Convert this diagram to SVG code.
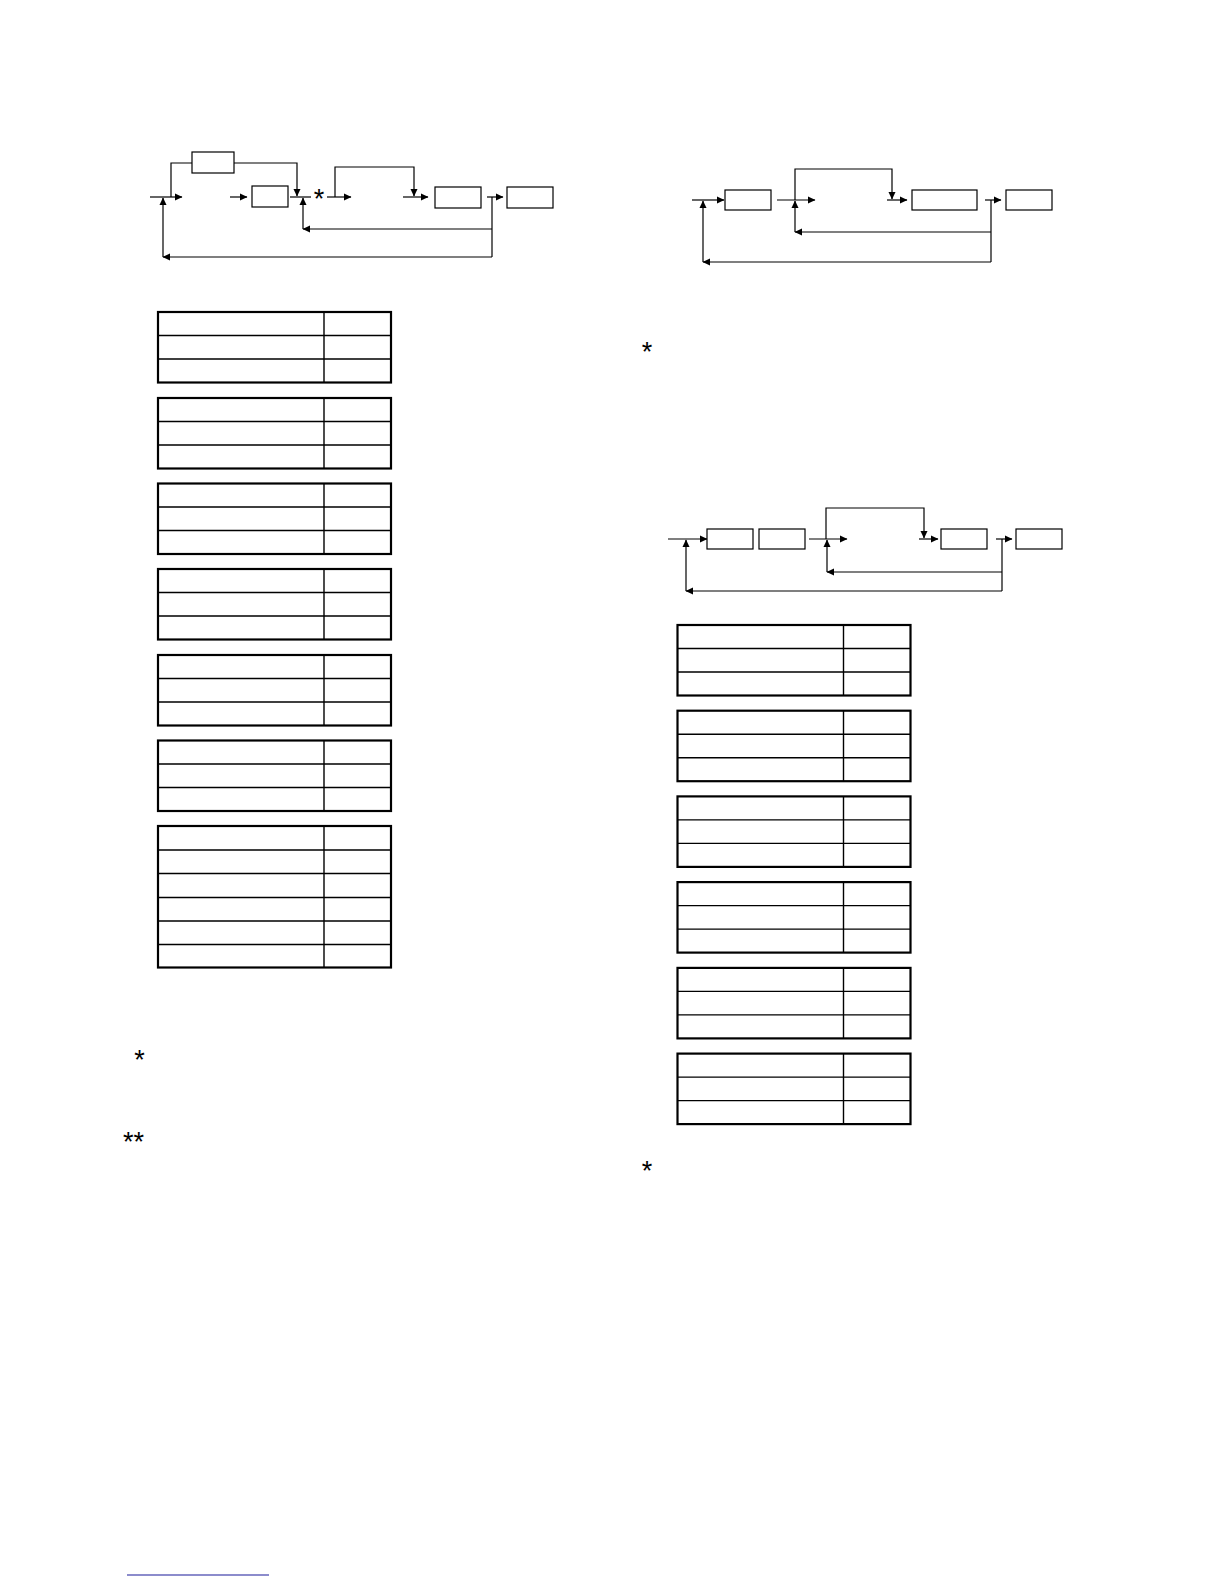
<svg xmlns="http://www.w3.org/2000/svg" width="1224" height="1584" viewBox="0 0 1224 1584">
<style>
.ln{fill:none;stroke:#000;stroke-width:1.2}
.ar{fill:none;stroke:#000;stroke-width:1.2;marker-end:url(#ah)}
.bx{fill:#fff;stroke:#000;stroke-width:1.2}
.to{fill:#fff;stroke:#000;stroke-width:2.2}
.ti{fill:none;stroke:#000;stroke-width:1.4}
.st{font-family:"Liberation Sans",Arial,sans-serif;font-size:27px;fill:#000}
</style>
<defs>
<marker id="ah" markerUnits="userSpaceOnUse" markerWidth="8" markerHeight="8" viewBox="0 0 8 8" refX="7" refY="4" orient="auto">
<path d="M0,0.5 L7.5,4 L0,7.5 Z" fill="#000"/>
</marker>
<g id="tbl3">
<rect class="to" x="0" y="0" width="233" height="70.5"/>
<path class="ti" d="M0,23.5 H233 M0,47 H233 M166,0 V70.5"/>
</g>
</defs>
<rect width="1224" height="1584" fill="#fff"/>

<g id="connectors">
<!-- diagram 1 -->
<path class="ln" d="M150,197 H171"/>
<path class="ar" d="M171,197 H182"/>
<path class="ln" d="M171,197 V163 H192"/>
<path class="ar" d="M234,163 H297 V196"/>
<path class="ar" d="M230,197 H247"/>
<path class="ln" d="M290,197 H311"/>
<path class="ar" d="M492,257 H163"/>
<path class="ar" d="M163,257 V198"/>
<path class="ar" d="M492,229 H303"/>
<path class="ar" d="M303,229 V198"/>
<path class="ar" d="M327,197 H351"/>
<path class="ar" d="M335,197 V167 H414 V196"/>
<path class="ar" d="M403,197 H428"/>
<path class="ar" d="M487,197 H503"/>
<path class="ln" d="M492,197 V257"/>
<!-- diagram 2 -->
<path class="ar" d="M692,200 H724"/>
<path class="ar" d="M777,200 H815"/>
<path class="ar" d="M795,200 V169 H892 V199"/>
<path class="ar" d="M887,200 H907"/>
<path class="ar" d="M985,200 H1001"/>
<path class="ln" d="M991,200 V262"/>
<path class="ar" d="M991,232 H795"/>
<path class="ar" d="M795,232 V201"/>
<path class="ar" d="M991,262 H703"/>
<path class="ar" d="M703,262 V201"/>
<!-- diagram 3 -->
<path class="ar" d="M668,539 H707"/>
<path class="ar" d="M809,539 H847"/>
<path class="ar" d="M826,539 V508 H924 V538"/>
<path class="ar" d="M919,539 H938"/>
<path class="ar" d="M996,539 H1012"/>
<path class="ln" d="M1002,539 V591"/>
<path class="ar" d="M1002,572 H827"/>
<path class="ar" d="M827,572 V540"/>
<path class="ar" d="M1002,591 H686"/>
<path class="ar" d="M686,591 V540"/>
</g>

<g id="d1-box-top"><rect class="bx" x="192" y="152" width="42" height="21"/></g>
<g id="d1-box-a"><rect class="bx" x="252" y="186" width="36" height="21"/></g>
<g id="d1-star"><text class="st" x="319" y="208" font-size="17" text-anchor="middle">*</text></g>
<g id="d1-box-b"><rect class="bx" x="435" y="187" width="46" height="21"/></g>
<g id="d1-box-c"><rect class="bx" x="507" y="187" width="46" height="21"/></g>

<g id="d2-box-a"><rect class="bx" x="725" y="190" width="46" height="20"/></g>
<g id="d2-box-b"><rect class="bx" x="912" y="190" width="65" height="20"/></g>
<g id="d2-box-c"><rect class="bx" x="1006" y="190" width="46" height="20"/></g>

<g id="d3-box-a"><rect class="bx" x="707" y="529" width="46" height="20"/></g>
<g id="d3-box-b"><rect class="bx" x="759" y="529" width="46" height="20"/></g>
<g id="d3-box-c"><rect class="bx" x="941" y="529" width="46" height="20"/></g>
<g id="d3-box-d"><rect class="bx" x="1016" y="529" width="46" height="20"/></g>

<g id="left-tables">
<use href="#tbl3" x="158" y="312"/>
<use href="#tbl3" x="158" y="398"/>
<use href="#tbl3" x="158" y="483.5"/>
<use href="#tbl3" x="158" y="569"/>
<use href="#tbl3" x="158" y="655"/>
<use href="#tbl3" x="158" y="740.5"/>
<g id="left-table-7">
<rect class="to" x="158" y="826" width="233" height="141.5"/>
<path class="ti" d="M158,850 H391 M158,873.5 H391 M158,897.5 H391 M158,921 H391 M158,944.5 H391 M324,826 V967.5"/>
</g>
</g>

<g id="right-tables">
<use href="#tbl3" x="677.5" y="625"/>
<use href="#tbl3" x="677.5" y="710.7"/>
<use href="#tbl3" x="677.5" y="796.4"/>
<use href="#tbl3" x="677.5" y="882.1"/>
<use href="#tbl3" x="677.5" y="967.9"/>
<use href="#tbl3" x="677.5" y="1053.6"/>
</g>

<g id="notes">
<text class="st" x="139.5" y="1069" text-anchor="middle">*</text>
<text class="st" x="133.5" y="1151" text-anchor="middle">**</text>
<text class="st" x="647" y="361" text-anchor="middle">*</text>
<text class="st" x="647" y="1180" text-anchor="middle">*</text>
</g>

<g id="footer">
<line x1="127" y1="1575" x2="269" y2="1575" stroke="#1a1a9a" stroke-width="1.2"/>
</g>
</svg>
